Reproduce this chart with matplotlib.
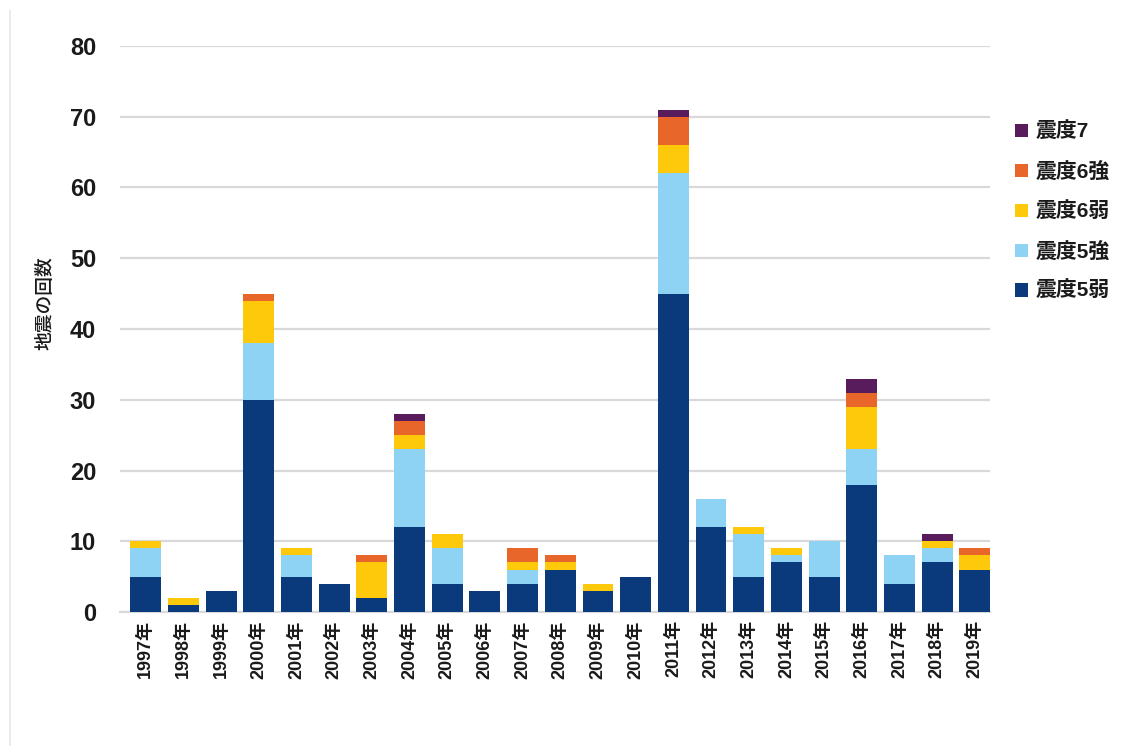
import matplotlib
matplotlib.use("Agg")
import matplotlib.pyplot as plt
from matplotlib.lines import Line2D
import numpy as np

plt.rcParams['font.family'] = ['Liberation Sans', 'Noto Sans CJK JP', 'DejaVu Sans']

years = [f"{y}年" for y in range(1997, 2020)]

# counts per intensity level, one value per year
shindo_5weak   = [5, 1, 3, 30, 5, 4, 2, 12, 4, 3, 4, 6, 3, 5, 45, 12, 5, 7, 5, 18, 4, 7, 6]
shindo_5strong = [4, 0, 0, 8, 3, 0, 0, 11, 5, 0, 2, 0, 0, 0, 17, 4, 6, 1, 5, 5, 4, 2, 0]
shindo_6weak   = [1, 1, 0, 6, 1, 0, 5, 2, 2, 0, 1, 1, 1, 0, 4, 0, 1, 1, 0, 6, 0, 1, 2]
shindo_6strong = [0, 0, 0, 1, 0, 0, 1, 2, 0, 0, 2, 1, 0, 0, 4, 0, 0, 0, 0, 2, 0, 0, 1]
shindo_7       = [0, 0, 0, 0, 0, 0, 0, 1, 0, 0, 0, 0, 0, 0, 1, 0, 0, 0, 0, 2, 0, 1, 0]

series = [
    ("震度5弱", shindo_5weak, "#0b3a7c"),
    ("震度5強", shindo_5strong, "#8fd3f4"),
    ("震度6弱", shindo_6weak, "#fdc90a"),
    ("震度6強", shindo_6strong, "#e8662a"),
    ("震度7", shindo_7, "#581b5c"),
]

fig = plt.figure(figsize=(11.3, 7.46), dpi=100)
ax = fig.add_axes([0.106, 0.1796, 0.77, 0.7588])

x = np.arange(len(years))
bottom = np.zeros(len(years))
handles = []
for label, vals, color in series:
    vals = np.array(vals, dtype=float)
    b = ax.bar(x, vals, bottom=bottom, width=0.82, color=color, label=label, zorder=3)
    handles.append(b)
    bottom += vals

ax.set_ylim(0, 80)
ax.set_xlim(-0.69, 22.4)
ax.set_yticks(range(0, 81, 10))
ax.yaxis.grid(True, color="#d9d9d9", linewidth=1.6, zorder=0)
ax.set_axisbelow(True)
for side in ["top", "right", "left"]:
    ax.spines[side].set_visible(False)
ax.spines["bottom"].set_color("#d9d9d9")
ax.spines["bottom"].set_linewidth(1.6)
ax.tick_params(axis="both", length=0)
ax.tick_params(axis="y", pad=17)
ax.tick_params(axis="x", pad=6)

ax.set_xticks(x)
ax.set_xticklabels(years, rotation=90, fontsize=13, fontweight="bold", color="#1a1a1a")
for t in ax.get_yticklabels():
    t.set_fontsize(17)
    t.set_fontweight("bold")
    t.set_color("#1a1a1a")

ax.set_ylabel("地震の回数", fontsize=13.5, color="#1a1a1a", fontweight="medium")
ax.yaxis.set_label_coords(-0.075, 0.545)

leg = fig.legend(handles[::-1], [s[0] for s in series][::-1],
                 loc="upper left", bbox_to_anchor=(0.882, 0.862),
                 frameon=False, fontsize=15, handlelength=0.6, handleheight=0.6,
                 handletextpad=0.35, labelspacing=0.95)
for t in leg.get_texts():
    t.set_color("#1a1a1a")
    t.set_fontweight("bold")

# thin frame line along the left edge
fig.add_artist(Line2D([0.009, 0.009], [0.0, 0.985], color="#e6e6e6", linewidth=1.2,
                      transform=fig.transFigure))

fig.savefig("out.png", dpi=100)
